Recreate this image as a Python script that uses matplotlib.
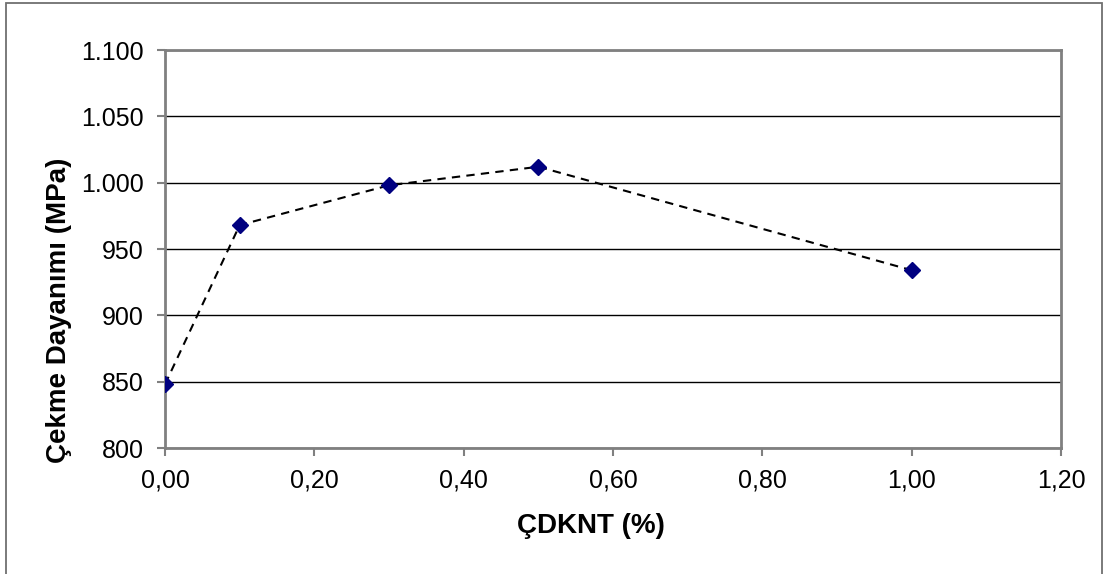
import matplotlib
matplotlib.use("Agg")
import matplotlib.pyplot as plt
from matplotlib.patches import Rectangle
from matplotlib.ticker import FuncFormatter

plt.rcParams['font.family'] = ['Liberation Sans', 'DejaVu Sans']

cdknt = [0.0, 0.1, 0.3, 0.5, 1.0]
dayanim = [848, 968, 998, 1012, 934]
xticks = [0.0, 0.2, 0.4, 0.6, 0.8, 1.0, 1.2]
yticks = [800, 850, 900, 950, 1000, 1050, 1100]


def yfmt(v, pos):
  # Turkish thousands separator
  return f"{int(round(v)):,}".replace(",", ".")


def xfmt(v, pos):
  return f"{v:.2f}".replace(".", ",")


fig = plt.figure(figsize=(11.07, 5.74), dpi=100)
fig.patches.append(Rectangle((6/1107, -0.01), 1096/1107, 1 - 3/574 + 0.01,
                             transform=fig.transFigure, fill=False,
                             edgecolor='#707070', linewidth=1.3))

ax = fig.add_axes([165/1107, 126/574, 896/1107, 398/574])
ax.plot(cdknt, dayanim, linestyle=(0, (4, 3)), color='black', linewidth=1.5,
        marker='D', markersize=8, markerfacecolor='#000080',
        markeredgecolor='#000080', zorder=3)

ax.set_xlim(0, 1.2)
ax.set_ylim(800, 1100)
ax.set_xticks(xticks)
ax.set_yticks(yticks)
ax.xaxis.set_major_formatter(FuncFormatter(xfmt))
ax.yaxis.set_major_formatter(FuncFormatter(yfmt))
ax.yaxis.grid(True, color='black', linewidth=1)
ax.set_axisbelow(True)
for s in ax.spines.values():
  s.set_color('#808080')
  s.set_linewidth(2)
ax.tick_params(axis='both', direction='out', length=5.5, width=1.5,
               color='#808080', labelsize=18)
ax.tick_params(axis='y', pad=10)
ax.tick_params(axis='x', pad=9)

ax.set_xlabel('ÇDKNT (%)', fontsize=20, fontweight='bold')
ax.set_ylabel('Çekme Dayanımı (MPa)', fontsize=20, fontweight='bold')
ax.xaxis.set_label_coords(0.475, -0.163)
ax.yaxis.set_label_coords(-0.104, 0.347)

fig.savefig('out.png', dpi=100)
plt.close()
